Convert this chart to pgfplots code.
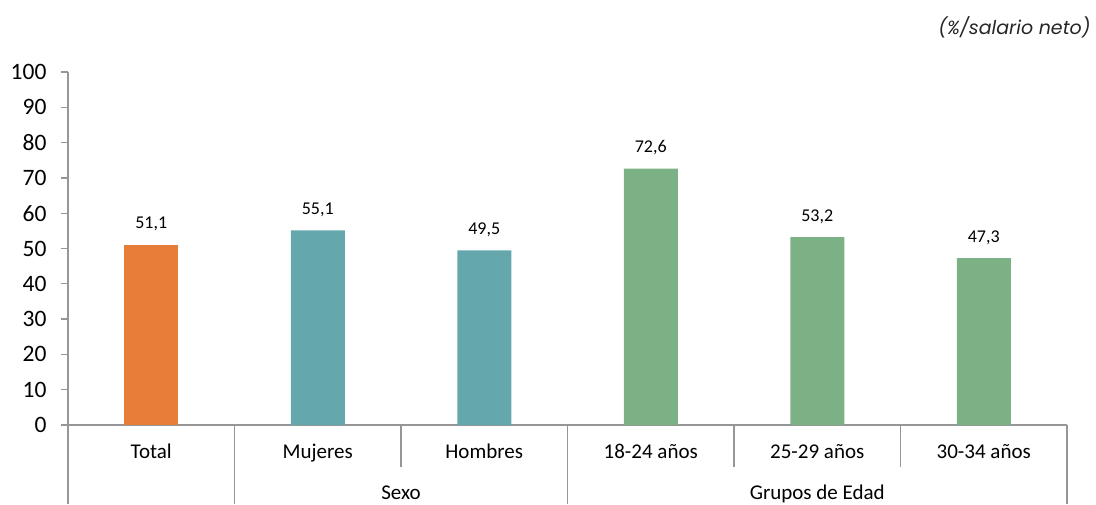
\documentclass[border=0pt]{standalone}
\usepackage{pgfplots}
\pgfplotsset{compat=1.18}
\usepackage{fontspec}
\setmainfont{Carlito}
\newfontfamily\titlefont{Poppins}
\definecolor{cTotal}{RGB}{230,126,58}
\definecolor{cSexo}{RGB}{100,168,174}
\definecolor{cEdad}{RGB}{124,176,133}
\definecolor{axgray}{RGB}{150,150,150}
\begin{document}
\begin{tikzpicture}
\useasboundingbox (0pt,0pt) rectangle (1096pt,504pt);
\node[anchor=east,font=\titlefont\itshape\fontsize{19}{22}\selectfont,text=black!85] at (1094pt,477pt) {(\%/salario neto)};
\begin{axis}[
  at={(68pt,79pt)}, anchor=south west,
  scale only axis, width=999pt, height=353pt,
  xmin=-0.5, xmax=5.5, ymin=0, ymax=100,
  ytick={0,10,...,100},
  xtick=\empty,
  axis x line*=bottom, axis y line*=left,
  axis line style={axgray, line width=1.3pt, -},
  y tick style={axgray, line width=1.3pt},
  tick align=outside, major tick length=7pt,
  tick label style={font=\fontsize{23.5}{26}\selectfont},
  /pgf/number format/assume math mode=true,
  yticklabel style={xshift=-11pt},
  clip=false,
  ybar, bar width=54pt, bar shift=0pt,
  nodes near coords,
  every node near coord/.append style={font=\fontsize{18}{20}\selectfont, yshift=10pt,
    /pgf/number format/.cd, fixed, fixed zerofill, precision=1, use comma},
]
\addplot[fill=cTotal, draw=none] coordinates {(0,51.1)};
\addplot[fill=cSexo, draw=none] coordinates {(1,55.1) (2,49.5)};
\addplot[fill=cEdad, draw=none] coordinates {(3,72.6) (4,53.2) (5,47.3)};
% table under the axis
\draw[axgray, line width=1.3pt] (axis cs:-0.5,0) -- (axis cs:-0.5,-22.4);
\draw[axgray, line width=1.3pt] (axis cs:0.5,0) -- (axis cs:0.5,-22.4);
\draw[axgray, line width=1.3pt] (axis cs:2.5,0) -- (axis cs:2.5,-22.4);
\draw[axgray, line width=1.3pt] (axis cs:5.5,0) -- (axis cs:5.5,-22.4);
\draw[axgray, line width=1.3pt] (axis cs:1.5,0) -- (axis cs:1.5,-11.9);
\draw[axgray, line width=1.3pt] (axis cs:3.5,0) -- (axis cs:3.5,-11.9);
\draw[axgray, line width=1.3pt] (axis cs:4.5,0) -- (axis cs:4.5,-11.9);
\begin{scope}[every node/.style={font=\fontsize{21}{24}\selectfont, anchor=base, inner sep=0pt}]
\node at (axis cs:0,-9.63) {Total};
\node at (axis cs:1,-9.63) {Mujeres};
\node at (axis cs:2,-9.63) {Hombres};
\node at (axis cs:3,-9.63) {18-24 años};
\node at (axis cs:4,-9.63) {25-29 años};
\node at (axis cs:5,-9.63) {30-34 años};
\node at (axis cs:1.5,-21.2) {Sexo};
\node at (axis cs:4,-21.2) {Grupos de Edad};
\end{scope}
\end{axis}
\end{tikzpicture}
\end{document}
